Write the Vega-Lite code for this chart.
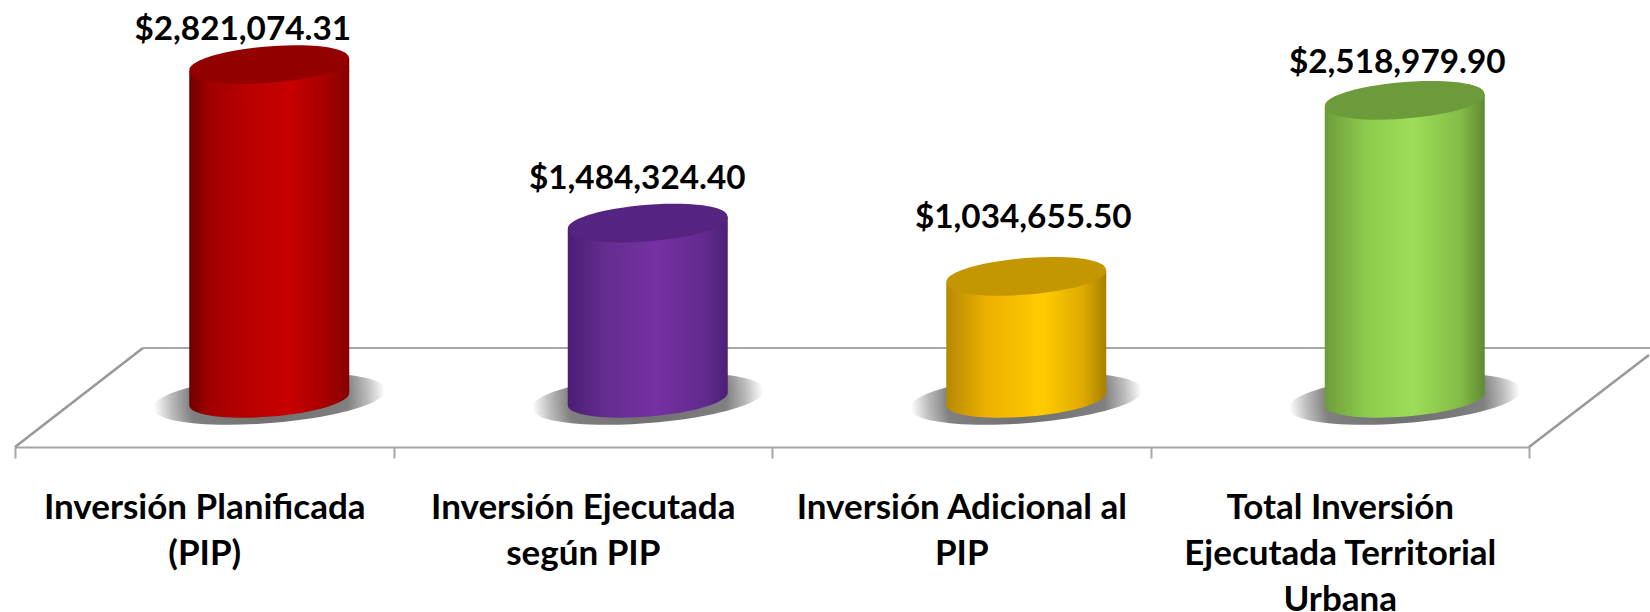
{
"$schema":"https://vega.github.io/schema/vega-lite/v6.json",
"width":1514,"height":447,
"padding":{"left":15,"top":0,"right":121,"bottom":165},
"autosize":{"type":"none"},
"background":"white",
"config":{"view":{"stroke":null},"text":{"font":"Lato","fontWeight":"bold","fontSize":33.3,"color":"#000000"}},
"datasets":{
"cols":[
{"categoria":"Inversión Planificada (PIP)","value":2821074.31},
{"categoria":"Inversión Ejecutada según PIP","value":1484324.40},
{"categoria":"Inversión Adicional al PIP","value":1034655.50},
{"categoria":"Total Inversión Ejecutada Territorial Urbana","value":2518979.90}
],
"floor":[
{"edge":"izquierda","position":0,"value":-404832},
{"edge":"izquierda","position":0.338,"value":430134},
{"edge":"fondo","position":0.338,"value":430134},
{"edge":"fondo","position":4.32,"value":430134},
{"edge":"derecha","position":4,"value":-404832},
{"edge":"derecha","position":4.317,"value":371096}
]
},
"encoding":{"y":{"field":"value","type":"quantitative","axis":null,"scale":{"domain":[-404832,3365166],"nice":false,"zero":false}}},
"layer":[
{"data":{"name":"floor"},
 "encoding":{"x":{"field":"position","type":"quantitative","axis":null,"scale":{"domain":[0,4],"nice":false,"zero":false}},"detail":{"field":"edge"}},
 "layer":[
  {"transform":[{"filter":"datum.edge=='fondo'"}],"mark":{"type":"line","color":"#a6a6a6","strokeWidth":2,"clip":false}},
  {"transform":[{"filter":"datum.edge!='fondo'"}],"mark":{"type":"line","color":"#999999","strokeWidth":2.6,"clip":false}}
 ]},
{"data":{"name":"cols"},
 "encoding":{"x":{"field":"categoria","type":"nominal","sort":null,
  "scale":{"type":"band","paddingInner":0,"paddingOuter":0,"domain":["Inversión Planificada (PIP)","Inversión Ejecutada según PIP","Inversión Adicional al PIP","Total Inversión Ejecutada Territorial Urbana"]},
  "axis":{"title":null,"domainColor":"#a6a6a6","domainWidth":2,"tickColor":"#a6a6a6","tickWidth":2,"tickSize":11,"tickBand":"extent","labelAngle":0,"labelLimit":600,"labelFont":"Lato","labelFontWeight":"bold","labelFontSize":35,"labelColor":"#000000","labelLineHeight":46,"labelPadding":32,"labelBaseline":"top",
   "labelExpr":"datum.label=='Inversión Planificada (PIP)'?['Inversión Planificada','(PIP)']:datum.label=='Inversión Ejecutada según PIP'?['Inversión Ejecutada','según PIP']:datum.label=='Inversión Adicional al PIP'?['Inversión Adicional al','PIP']:datum.label=='Total Inversión Ejecutada Territorial Urbana'?['Total Inversión','Ejecutada Territorial','Urbana']:''"}}},
 "layer":[
  {"mark":{"type":"point","filled":true,"opacity":1,"xOffset":65,"shape":"M-0.996,0.08 A1,0.2,-4.6,1,1,0.996,-0.08 A1,0.2,-4.6,1,1,-0.996,0.08 Z","size":53824,"fill":{"gradient":"radial","x1":0.5,"y1":0.5,"x2":0.5,"y2":0.5,"r1":0,"r2":0.5,"stops":[{"offset":0,"color":"#6e6e6e"},{"offset":0.68,"color":"#808080"},{"offset":0.85,"color":"#bcbcbc"},{"offset":1,"color":"#ffffff"}]}},
   "encoding":{"y":{"datum":0}}},

  {"transform":[{"filter":"datum.categoria=='Inversión Planificada (PIP)'"}],"layer":[
   {"mark":{"type":"bar","width":160,"xOffset":65,"yOffset":6.5,"y2Offset":-6.5,"color":{"gradient":"linear","x1":0,"y1":0,"x2":1,"y2":0,"stops":[{"offset":0,"color":"#6e0000"},{"offset":0.12,"color":"#a00000"},{"offset":0.35,"color":"#b80000"},{"offset":0.62,"color":"#c80000"},{"offset":0.85,"color":"#a60000"},{"offset":1,"color":"#880000"}]}},"encoding":{"y2":{"datum":0}}},
   {"mark":{"type":"point","filled":true,"opacity":1,"xOffset":65,"size":25600,"shape":"M-1,-0.09 L1,-0.09 L1,-0.08 A1,0.22,-4.6,0,1,-1,0.08 Z","fill":{"gradient":"linear","x1":0,"y1":0,"x2":1,"y2":0,"stops":[{"offset":0,"color":"#6e0000"},{"offset":0.12,"color":"#a00000"},{"offset":0.35,"color":"#b80000"},{"offset":0.62,"color":"#c80000"},{"offset":0.85,"color":"#a60000"},{"offset":1,"color":"#880000"}]}},"encoding":{"y":{"datum":0}}},
   {"mark":{"type":"point","filled":true,"opacity":1,"xOffset":65,"size":25600,"shape":"M-1,0.08 L1,-0.08 L1,0.09 L-1,0.09 Z","fill":{"gradient":"linear","x1":0,"y1":0,"x2":1,"y2":0,"stops":[{"offset":0,"color":"#6e0000"},{"offset":0.12,"color":"#a00000"},{"offset":0.35,"color":"#b80000"},{"offset":0.62,"color":"#c80000"},{"offset":0.85,"color":"#a60000"},{"offset":1,"color":"#880000"}]}}},
   {"mark":{"type":"point","filled":true,"opacity":1,"xOffset":65,"size":25600,"shape":"M-0.996,0.08 A1,0.22,-4.6,1,1,0.996,-0.08 A1,0.22,-4.6,1,1,-0.996,0.08 Z","fill":"#930000"}},
   {"mark":{"type":"text","dx":38.5,"dy":-34.5,"baseline":"middle","align":"center"},"encoding":{"text":{"field":"value","format":"$,.2f"}}}
  ]},

  {"transform":[{"filter":"datum.categoria=='Inversión Ejecutada según PIP'"}],"layer":[
   {"mark":{"type":"bar","width":160,"xOffset":65,"yOffset":6.5,"y2Offset":-6.5,"color":{"gradient":"linear","x1":0,"y1":0,"x2":1,"y2":0,"stops":[{"offset":0,"color":"#4a1f75"},{"offset":0.25,"color":"#662d91"},{"offset":0.55,"color":"#7530a3"},{"offset":0.85,"color":"#632a8e"},{"offset":1,"color":"#4c2078"}]}},"encoding":{"y2":{"datum":0}}},
   {"mark":{"type":"point","filled":true,"opacity":1,"xOffset":65,"size":25600,"shape":"M-1,-0.09 L1,-0.09 L1,-0.08 A1,0.22,-4.6,0,1,-1,0.08 Z","fill":{"gradient":"linear","x1":0,"y1":0,"x2":1,"y2":0,"stops":[{"offset":0,"color":"#4a1f75"},{"offset":0.25,"color":"#662d91"},{"offset":0.55,"color":"#7530a3"},{"offset":0.85,"color":"#632a8e"},{"offset":1,"color":"#4c2078"}]}},"encoding":{"y":{"datum":0}}},
   {"mark":{"type":"point","filled":true,"opacity":1,"xOffset":65,"size":25600,"shape":"M-1,0.08 L1,-0.08 L1,0.09 L-1,0.09 Z","fill":{"gradient":"linear","x1":0,"y1":0,"x2":1,"y2":0,"stops":[{"offset":0,"color":"#4a1f75"},{"offset":0.25,"color":"#662d91"},{"offset":0.55,"color":"#7530a3"},{"offset":0.85,"color":"#632a8e"},{"offset":1,"color":"#4c2078"}]}}},
   {"mark":{"type":"point","filled":true,"opacity":1,"xOffset":65,"size":25600,"shape":"M-0.996,0.08 A1,0.22,-4.6,1,1,0.996,-0.08 A1,0.22,-4.6,1,1,-0.996,0.08 Z","fill":"#552380"}},
   {"mark":{"type":"text","dx":54.5,"dy":-44,"baseline":"middle","align":"center"},"encoding":{"text":{"field":"value","format":"$,.2f"}}}
  ]},

  {"transform":[{"filter":"datum.categoria=='Inversión Adicional al PIP'"}],"layer":[
   {"mark":{"type":"bar","width":160,"xOffset":65,"yOffset":6.5,"y2Offset":-6.5,"color":{"gradient":"linear","x1":0,"y1":0,"x2":1,"y2":0,"stops":[{"offset":0,"color":"#b58a00"},{"offset":0.25,"color":"#ecb000"},{"offset":0.6,"color":"#ffcc00"},{"offset":0.85,"color":"#e0aa00"},{"offset":1,"color":"#a88000"}]}},"encoding":{"y2":{"datum":0}}},
   {"mark":{"type":"point","filled":true,"opacity":1,"xOffset":65,"size":25600,"shape":"M-1,-0.09 L1,-0.09 L1,-0.08 A1,0.22,-4.6,0,1,-1,0.08 Z","fill":{"gradient":"linear","x1":0,"y1":0,"x2":1,"y2":0,"stops":[{"offset":0,"color":"#b58a00"},{"offset":0.25,"color":"#ecb000"},{"offset":0.6,"color":"#ffcc00"},{"offset":0.85,"color":"#e0aa00"},{"offset":1,"color":"#a88000"}]}},"encoding":{"y":{"datum":0}}},
   {"mark":{"type":"point","filled":true,"opacity":1,"xOffset":65,"size":25600,"shape":"M-1,0.08 L1,-0.08 L1,0.09 L-1,0.09 Z","fill":{"gradient":"linear","x1":0,"y1":0,"x2":1,"y2":0,"stops":[{"offset":0,"color":"#b58a00"},{"offset":0.25,"color":"#ecb000"},{"offset":0.6,"color":"#ffcc00"},{"offset":0.85,"color":"#e0aa00"},{"offset":1,"color":"#a88000"}]}}},
   {"mark":{"type":"point","filled":true,"opacity":1,"xOffset":65,"size":25600,"shape":"M-0.996,0.08 A1,0.22,-4.6,1,1,0.996,-0.08 A1,0.22,-4.6,1,1,-0.996,0.08 Z","fill":"#c49600"}},
   {"mark":{"type":"text","dx":62,"dy":-58,"baseline":"middle","align":"center"},"encoding":{"text":{"field":"value","format":"$,.2f"}}}
  ]},

  {"transform":[{"filter":"datum.categoria=='Total Inversión Ejecutada Territorial Urbana'"}],"layer":[
   {"mark":{"type":"bar","width":160,"xOffset":65,"yOffset":6.5,"y2Offset":-6.5,"color":{"gradient":"linear","x1":0,"y1":0,"x2":1,"y2":0,"stops":[{"offset":0,"color":"#6d9c3c"},{"offset":0.25,"color":"#8cc94c"},{"offset":0.55,"color":"#9edd58"},{"offset":0.85,"color":"#83bc47"},{"offset":1,"color":"#5f8a32"}]}},"encoding":{"y2":{"datum":0}}},
   {"mark":{"type":"point","filled":true,"opacity":1,"xOffset":65,"size":25600,"shape":"M-1,-0.09 L1,-0.09 L1,-0.08 A1,0.22,-4.6,0,1,-1,0.08 Z","fill":{"gradient":"linear","x1":0,"y1":0,"x2":1,"y2":0,"stops":[{"offset":0,"color":"#6d9c3c"},{"offset":0.25,"color":"#8cc94c"},{"offset":0.55,"color":"#9edd58"},{"offset":0.85,"color":"#83bc47"},{"offset":1,"color":"#5f8a32"}]}},"encoding":{"y":{"datum":0}}},
   {"mark":{"type":"point","filled":true,"opacity":1,"xOffset":65,"size":25600,"shape":"M-1,0.08 L1,-0.08 L1,0.09 L-1,0.09 Z","fill":{"gradient":"linear","x1":0,"y1":0,"x2":1,"y2":0,"stops":[{"offset":0,"color":"#6d9c3c"},{"offset":0.25,"color":"#8cc94c"},{"offset":0.55,"color":"#9edd58"},{"offset":0.85,"color":"#83bc47"},{"offset":1,"color":"#5f8a32"}]}}},
   {"mark":{"type":"point","filled":true,"opacity":1,"xOffset":65,"size":25600,"shape":"M-0.996,0.08 A1,0.22,-4.6,1,1,0.996,-0.08 A1,0.22,-4.6,1,1,-0.996,0.08 Z","fill":"#6d9b3b"}},
   {"mark":{"type":"text","dx":57.5,"dy":-37,"baseline":"middle","align":"center"},"encoding":{"text":{"field":"value","format":"$,.2f"}}}
  ]}
 ]}
],
"resolve":{"scale":{"x":"independent"},"axis":{"x":"independent"}}
}
